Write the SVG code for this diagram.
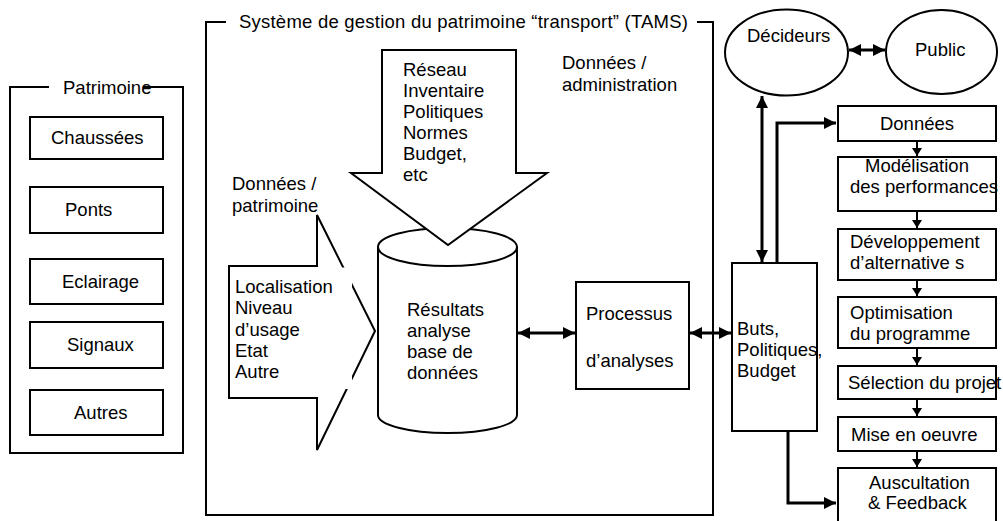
<svg xmlns="http://www.w3.org/2000/svg" width="1003" height="521" viewBox="0 0 1003 521">
<style>
.t{font-family:"Liberation Sans",Arial,sans-serif;font-size:18.5px;fill:#000}
.b{fill:#fff;stroke:#000;stroke-width:2}
.f{fill:none;stroke:#000;stroke-width:2}
.c{fill:none;stroke:#000;stroke-width:3}
.s{fill:none;stroke:#000;stroke-width:2}
</style>
<defs>
<marker id="ah" markerUnits="userSpaceOnUse" markerWidth="13" markerHeight="13" refX="12" refY="6" orient="auto-start-reverse"><path d="M0,0 L12,6 L0,12 z" fill="#000"/></marker>
<marker id="sm" markerUnits="userSpaceOnUse" markerWidth="11" markerHeight="11" refX="8" refY="5" orient="auto"><path d="M0,0 L8,5 L0,10 z" fill="#000"/></marker>
</defs>
<rect width="1003" height="521" fill="#fff"/>

<g id="patrimoine">
<path class="f" d="M49,87 H10 V453 H183 V87 H143"/>
<text class="t" x="63" y="94">Patrimoine</text>
</g>
<g id="chaussees"><rect class="b" x="30" y="117" width="133" height="42"/><text class="t" x="51" y="144">Chaussées</text></g>
<g id="ponts"><rect class="b" x="30" y="187" width="133" height="46"/><text class="t" x="65" y="216">Ponts</text></g>
<g id="eclairage"><rect class="b" x="30" y="259" width="133" height="45"/><text class="t" x="62" y="288">Eclairage</text></g>
<g id="signaux"><rect class="b" x="30" y="322" width="133" height="46"/><text class="t" x="67" y="351">Signaux</text></g>
<g id="autres"><rect class="b" x="30" y="390" width="133" height="45"/><text class="t" x="74" y="419">Autres</text></g>

<g id="tams">
<path class="f" d="M226,22 H206 V515 H713 V22 H697"/>
<text class="t" x="239" y="28" textLength="449" lengthAdjust="spacing">Système de gestion du patrimoine “transport” (TAMS)</text>
<text class="t" x="562" y="69">Données /</text>
<text class="t" x="562" y="91">administration</text>
</g>

<g id="donnees-patrimoine">
<text class="t" x="232" y="190">Données /</text>
<text class="t" x="232" y="212">patrimoine</text>
<path class="b" d="M229,266 H317 V215 L375,331 L317,450 V398 H229 Z"/>
<rect x="231" y="267.5" width="121" height="121.5" fill="#fff"/>
<text class="t" x="235" y="293">Localisation</text>
<text class="t" x="235" y="314">Niveau</text>
<text class="t" x="235" y="336">d’usage</text>
<text class="t" x="235" y="357">Etat</text>
<text class="t" x="235" y="378">Autre</text>
</g>

<g id="base">
<path class="b" d="M378,247 V415 A69.5,18 0 0 0 517,415 V247"/>
<ellipse class="b" cx="447.5" cy="247" rx="69.5" ry="19"/>
<text class="t" x="407" y="316">Résultats</text>
<text class="t" x="407" y="337">analyse</text>
<text class="t" x="407" y="358">base de</text>
<text class="t" x="407" y="379">données</text>
</g>

<g id="donnees-admin">
<path class="b" d="M382,50 H516 V173 H547 L448,245 L351,173 H382 Z"/>
<text class="t" x="403" y="76">Réseau</text>
<text class="t" x="403" y="97">Inventaire</text>
<text class="t" x="403" y="118">Politiques</text>
<text class="t" x="403" y="139">Normes</text>
<text class="t" x="403" y="160">Budget,</text>
<text class="t" x="403" y="181">etc</text>
</g>

<g id="processus">
<rect class="b" x="576" y="282" width="113" height="107"/>
<text class="t" x="586" y="320">Processus</text>
<text class="t" x="586" y="367">d’analyses</text>
</g>

<g id="buts">
<rect class="b" x="732" y="263" width="85" height="168"/>
<text class="t" x="737" y="335">Buts,</text>
<text class="t" x="737" y="356">Politiques,</text>
<text class="t" x="737" y="377">Budget</text>
</g>

<g id="decideurs">
<ellipse class="b" cx="786.5" cy="52.5" rx="61.5" ry="43"/>
<text class="t" x="747" y="42">Décideurs</text>
</g>
<g id="public">
<ellipse class="b" cx="941.5" cy="52" rx="55.5" ry="42"/>
<text class="t" x="915" y="56">Public</text>
</g>

<g id="donnees"><rect class="b" x="838" y="106" width="158" height="35"/><text class="t" x="917" y="130" text-anchor="middle">Données</text></g>
<g id="modelisation"><rect class="b" x="838" y="157" width="158" height="54"/><text class="t" x="917" y="172" text-anchor="middle">Modélisation</text><text class="t" x="850" y="193">des performances</text></g>
<g id="developpement"><rect class="b" x="838" y="229" width="158" height="51"/><text class="t" x="850" y="248">Développement</text><text class="t" x="850" y="269">d’alternative s</text></g>
<g id="optimisation"><rect class="b" x="838" y="297" width="158" height="51"/><text class="t" x="850" y="319">Optimisation</text><text class="t" x="850" y="340">du programme</text></g>
<g id="selection"><rect class="b" x="838" y="366" width="158" height="33"/><text class="t" x="848" y="389">Sélection du projet</text></g>
<g id="mise"><rect class="b" x="838" y="417" width="158" height="34"/><text class="t" x="851" y="441">Mise en oeuvre</text></g>
<g id="auscultation"><rect class="b" x="838" y="468" width="158" height="60"/><text class="t" x="869" y="489">Auscultation</text><text class="t" x="868" y="509">&amp; Feedback</text></g>

<g id="connectors">
<line class="c" x1="518" y1="333" x2="575" y2="333" marker-start="url(#ah)" marker-end="url(#ah)"/>
<line class="c" x1="690" y1="333" x2="731" y2="333" marker-start="url(#ah)" marker-end="url(#ah)"/>
<line class="c" x1="849" y1="50" x2="885" y2="50" marker-start="url(#ah)" marker-end="url(#ah)"/>
<line class="c" x1="762" y1="96" x2="762" y2="262" marker-start="url(#ah)" marker-end="url(#ah)"/>
<polyline class="c" points="777,263 777,123 836,123" marker-end="url(#ah)"/>
<polyline class="c" points="788,431 788,503 836,503" marker-end="url(#ah)"/>
<line class="s" x1="917" y1="141" x2="917" y2="156" marker-end="url(#sm)"/>
<line class="s" x1="917" y1="211" x2="917" y2="228" marker-end="url(#sm)"/>
<line class="s" x1="917" y1="280" x2="917" y2="296" marker-end="url(#sm)"/>
<line class="s" x1="917" y1="348" x2="917" y2="365" marker-end="url(#sm)"/>
<line class="s" x1="917" y1="399" x2="917" y2="416" marker-end="url(#sm)"/>
<line class="s" x1="917" y1="451" x2="917" y2="467" marker-end="url(#sm)"/>
</g>
</svg>
